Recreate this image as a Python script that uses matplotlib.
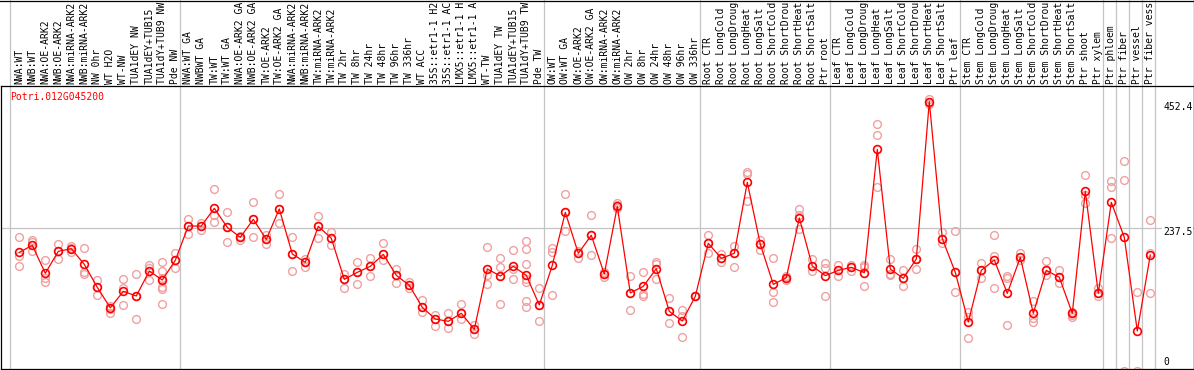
import matplotlib
matplotlib.use('Agg')
import matplotlib.pyplot as plt
from matplotlib.lines import Line2D
from matplotlib.transforms import blended_transform_factory

# ---------------- data ----------------
title = "Potri.012G045200"

samples = [
    "NWA:WT", "NWB:WT", "NWA:OE-ARK2", "NWB:OE-ARK2", "NWA:miRNA-ARK2", "NWB:miRNA-ARK2",
    "NW 0hr", "WT H2O", "WT-NW", "TUA1dEY NW", "TUA1dEY+TUB15", "TUA1dY+TUB9 NW", "Pde NW",
    "NWA:WT GA", "NWBWT GA", "TW:WT", "TW:WT GA", "NWA:OE-ARK2 GA", "NWB:OE-ARK2 GA",
    "TW:OE-ARK2", "TW:OE-ARK2 GA", "NWA:miRNA-ARK2", "NWB:miRNA-ARK2", "TW:miRNA-ARK2",
    "TW:miRNA-ARK2", "TW 2hr", "TW 8hr", "TW 24hr", "TW 48hr", "TW 96hr", "TW 336hr",
    "WT ACC", "35S::etr1-1 H2", "35S::etr1-1 AC", "LMX5::etr1-1 H", "LMX5::etr1-1 A",
    "WT-TW", "TUA1dEY TW", "TUA1dEY+TUB15", "TUA1dY+TUB9 TW", "Pde TW",
    "OW:WT", "OW:WT GA", "OW:OE-ARK2", "OW:OE-ARK2 GA", "OW:miRNA-ARK2", "OW:miRNA-ARK2",
    "OW 2hr", "OW 8hr", "OW 24hr", "OW 48hr", "OW 96hr", "OW 336hr",
    "Root CTR", "Root LongCold", "Root LongDroug", "Root LongHeat", "Root LongSalt",
    "Root ShortCold", "Root ShortDrou", "Root ShortHeat", "Root ShortSalt", "Ptr root",
    "Leaf CTR", "Leaf LongCold", "Leaf LongDroug", "Leaf LongHeat", "Leaf LongSalt",
    "Leaf ShortCold", "Leaf ShortDrou", "Leaf ShortHeat", "Leaf ShortSalt", "Ptr leaf",
    "Stem CTR", "Stem LongCold", "Stem LongDroug", "Stem LongHeat", "Stem LongSalt",
    "Stem ShortCold", "Stem ShortDrou", "Stem ShortHeat", "Stem ShortSalt",
    "Ptr shoot", "Ptr xylem", "Ptr phloem", "Ptr fiber", "Ptr vessel", "Ptr fiber vess",
]

means = [
    196.9, 208.6, 162.0, 198.6, 203.0, 176.9, 138.6, 104.4, 131.9, 124.2, 165.8, 150.8, 183.6,
    240.8, 240.8, 270.3, 238.6, 221.9, 251.9, 218.6, 269.2, 194.2, 180.3, 240.3, 220.3,
    151.9, 163.6, 173.6, 193.6, 158.6, 141.9, 105.3, 85.8, 82.0, 95.3, 68.6,
    169.2, 157.5, 173.6, 158.6, 109.2,
    175.3, 263.6, 195.3, 225.3, 160.8, 273.6, 129.2, 140.3, 169.7, 98.6, 82.5, 123.6,
    212.0, 186.9, 195.3, 313.6, 210.3, 143.6, 154.7, 254.2, 174.2, 158.1,
    166.9, 171.9, 163.1, 368.6, 169.2, 153.6, 185.8, 448.1, 219.7, 163.6,
    80.8, 166.9, 184.2, 128.6, 188.6, 95.3, 166.9, 155.3, 95.3,
    298.6, 128.6, 280.3, 221.9, 65.8, 192.5,
]

replicates = [
    [223.1, 190.8, 174.2], [216.9, 214.7, 199.7], [184.2, 153.6, 146.9], [210.8, 198.6, 185.3],
    [208.1, 204.2, 198.1], [204.2, 164.7, 160.8], [150.8, 139.7, 125.3], [107.5, 102.5, 95.3],
    [151.9, 137.5, 108.6], [160.3, 124.2, 85.3], [175.8, 171.4, 150.8],
    [180.8, 165.8, 153.6, 139.7, 135.8, 110.3], [195.3, 183.6, 171.4],
    [252.5, 240.8, 227.5], [245.8, 240.8, 234.2], [301.9, 259.2, 248.1], [264.7, 238.6, 213.6],
    [224.7, 221.9, 216.9], [280.8, 251.9, 223.1], [225.8, 218.6, 211.4], [293.6, 269.2, 245.3],
    [221.9, 194.2, 165.8], [185.8, 180.3, 173.1], [257.5, 240.3, 221.4], [230.8, 220.3, 209.7],
    [160.3, 151.9, 136.9], [180.8, 163.6, 143.6], [187.5, 173.6, 156.9], [212.0, 193.6, 184.7],
    [169.7, 158.6, 146.4], [147.5, 141.9, 138.1], [117.5, 105.3, 98.1], [92.5, 85.8, 73.6],
    [96.4, 82.0, 71.4], [110.8, 95.3, 85.3], [75.8, 68.6, 60.8],
    [205.3, 159.2, 143.6], [186.9, 172.0, 157.5, 110.3], [200.8, 169.7, 151.9],
    [215.8, 201.9, 176.9, 151.9, 148.1, 116.4, 106.4], [136.9, 109.2, 82.0],
    [203.6, 198.1, 125.8], [294.2, 263.6, 232.5], [199.7, 195.3, 188.1], [259.2, 225.3, 191.9],
    [164.7, 160.8, 156.4], [278.6, 275.8, 271.4], [158.1, 129.2, 100.3], [164.2, 127.5, 124.2],
    [181.4, 177.5, 151.9], [120.3, 98.6, 78.6], [100.3, 90.8, 55.3], [123.6, 123.6, 123.6],
    [225.8, 212.0, 195.3], [193.6, 186.9, 181.4], [206.9, 195.3, 172.0], [330.3, 328.1, 282.0],
    [216.9, 210.3, 201.4], [187.5, 131.4, 113.6], [158.1, 154.7, 150.8], [269.2, 259.2, 235.8],
    [185.8, 174.2, 166.4], [179.7, 170.8, 124.2],
    [175.8, 166.9, 158.1], [175.8, 171.9, 166.4], [175.8, 172.5, 140.8], [410.3, 392.0, 305.3],
    [185.8, 161.4, 158.6], [166.9, 153.6, 140.8], [201.9, 185.8, 168.6], [452.4, 448.1, 444.2],
    [231.4, 219.7, 212.0], [232.5, 163.6, 130.3],
    [98.1, 88.6, 53.6], [178.6, 166.9, 154.7], [225.3, 191.4, 136.9], [158.1, 153.6, 75.8],
    [196.4, 188.6, 184.2], [115.8, 86.9, 81.4], [182.5, 166.9, 158.6], [167.5, 155.3, 145.3],
    [98.1, 92.5, 88.6],
    [325.8, 292.5, 278.6], [136.9, 128.6, 124.7], [315.8, 306.4, 220.3], [349.2, 317.5, 0.0],
    [130.3, 0.0], [250.8, 196.4, 128.6],
]

# group separators: index of last sample in each group (0-based)
group_ends = [12, 40, 52, 62, 72, 83, 84, 85, 86, 87]
y_ticks = [452.4, 237.5, 0]
y_tick_labels = ["452.4", "237.5", "0"]

# ---------------- layout ----------------
W, H = 1194, 370
FONT = "DejaVu Sans Mono"
fig = plt.figure(figsize=(W / 100, H / 100), dpi=100)
fig.patch.set_facecolor("white")

top_px, bot_px = 86, 369
left_px, right_px = 0.5, 1193.5
ax = fig.add_axes([left_px / W, (H - bot_px) / H, (right_px - left_px) / W, (bot_px - top_px) / H])

x0_px, step_px = 19.3, 13.0
ax.set_xlim((left_px - x0_px) / step_px, (right_px - x0_px) / step_px)
px_per_unit = 0.6
zero_px = 370.5
ax.set_ylim((zero_px - bot_px) / px_per_unit, (zero_px - top_px) / px_per_unit)
ax.set_xticks([])
ax.set_yticks([])
for s in ax.spines.values():
    s.set_color("black")
    s.set_linewidth(0.9)

grey = "#c4c4c4"
frac_top_fig = bot_px / (bot_px - top_px)  # axes fraction of figure top
# group lines (spanning label area as well)
ax.axvline((10 - x0_px) / step_px, ymin=0, ymax=frac_top_fig + 0.01, color=grey, lw=0.9, clip_on=False, zorder=0)
for g in group_ends:
    ax.axvline(g + 0.38, ymin=0, ymax=frac_top_fig + 0.01, color=grey, lw=0.9, clip_on=False, zorder=0)
# horizontal grid
ax.axhline(y_ticks[1], color=grey, lw=0.9, zorder=0)

# replicates
rx, ry = [], []
for i, reps in enumerate(replicates):
    for v in reps:
        rx.append(i)
        ry.append(v)
ax.plot(rx, ry, linestyle="none", marker="o", ms=5.6, mfc="none", mec="#f0a0a0", mew=1.0, zorder=2)

# means
xs = list(range(len(means)))
ax.plot(xs, means, color="red", lw=0.9, marker="o", ms=5.6, mfc="none", mec="red", mew=1.2, zorder=3)

# sample labels
trans = blended_transform_factory(ax.transData, ax.transAxes)
ylab = (bot_px - 84) / (bot_px - top_px)
for i, lab in enumerate(samples):
    ax.text(i, ylab, lab, rotation=90, ha="center", va="bottom", fontsize=7,
            family=FONT, color="black", transform=trans, clip_on=False)

# title
ax.text((10 - left_px) / (right_px - left_px), (bot_px - 97) / (bot_px - top_px), title,
        ha="left", va="center", fontsize=7, family=FONT, color="red", transform=ax.transAxes)

# right-side value labels
tick_y_px = [107.3, 232.0, 361.7]
for lab, ypx in zip(y_tick_labels, tick_y_px):
    ax.text((1163 - left_px) / (right_px - left_px), (bot_px - ypx) / (bot_px - top_px), lab,
            ha="left", va="center", fontsize=7, family=FONT, color="black",
            transform=ax.transAxes, zorder=5,
            bbox=dict(facecolor="white", edgecolor="none", pad=0.5))

# label-area frame lines
fig.add_artist(Line2D([0, 1], [1 - 0.5 / H, 1 - 0.5 / H], transform=fig.transFigure, color="black", lw=0.9))
fig.add_artist(Line2D([1 - 0.5 / W, 1 - 0.5 / W], [0, 1], transform=fig.transFigure, color="black", lw=0.9))

fig.savefig("out.png", dpi=100, facecolor="white")
